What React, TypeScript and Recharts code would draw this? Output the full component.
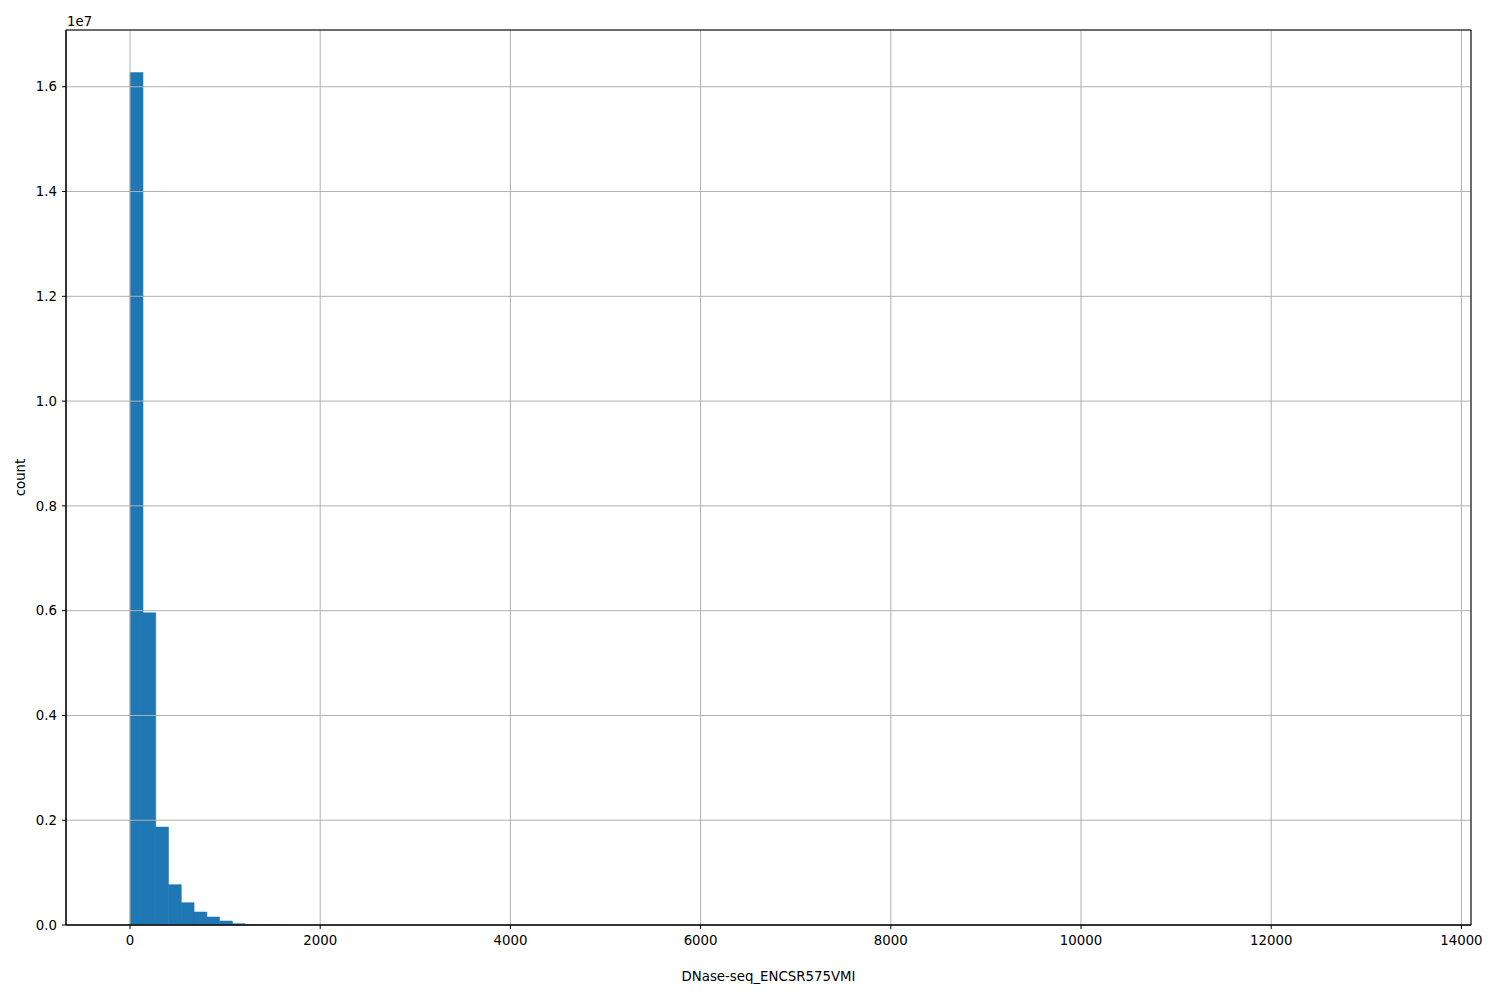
import React from 'react';
import { ComposedChart, Bar, XAxis, YAxis, CartesianGrid, Label, ReferenceArea } from 'recharts';

// Histogram bins (matplotlib/pandas hist, 100 bins over [0, ~13431])
const BIN_WIDTH = 134.3;
const binIndex = [0, 1, 2, 3, 4, 5, 6, 7, 8, 9, 10, 11];
const counts = [16270000, 5960000, 1870000, 770000, 426000, 248000, 153000, 76000, 25000, 8000, 3000, 1000];
const xTicks = [0, 2000, 4000, 6000, 8000, 10000, 12000, 14000];
const yTicks = [0, 2000000, 4000000, 6000000, 8000000, 10000000, 12000000, 14000000, 16000000];
const X_DOMAIN = [-673, 14101];
const Y_DOMAIN = [0, 17083500];

const data = binIndex.map((i, k) => ({ x: (i + 0.5) * BIN_WIDTH, count: counts[k] }));

const FONT = 'DejaVu Sans';
const tickStyle = { fontFamily: FONT, fontSize: 13.33, fill: '#000' };

export default function App() {
  return (
    <div style={{ position: 'absolute', left: 0, top: 0, width: 1500, height: 1000, background: '#fff' }}>
      <ComposedChart
        width={1500}
        height={1000}
        data={data}
        margin={{ top: 30, right: 29, bottom: 0, left: 0 }}
        barCategoryGap={0}
        barGap={0}
      >
        <XAxis
          type="number"
          dataKey="x"
          domain={X_DOMAIN}
          allowDataOverflow
          ticks={xTicks}
          interval={0}
          height={75}
          tickSize={4}
          tickMargin={7}
          stroke="#000"
          tick={tickStyle}
          tickLine={{ stroke: '#000' }}
          axisLine={{ stroke: '#000' }}
        >
          <Label
            content={(props: any) => {
              const vb = props.viewBox || {};
              return (
                <text x={vb.x + vb.width / 2} y={981} textAnchor="middle" style={{ fontFamily: FONT, fontSize: 13.33 }} fill="#000">
                  DNase-seq_ENCSR575VMI
                </text>
              );
            }}
          />
        </XAxis>
        <YAxis
          type="number"
          domain={Y_DOMAIN}
          allowDataOverflow
          ticks={yTicks}
          interval={0}
          width={66}
          tickSize={4}
          tickMargin={5}
          tick={tickStyle}
          tickLine={{ stroke: '#000' }}
          axisLine={{ stroke: '#000' }}
          tickFormatter={(v: number) => (v / 1e7).toFixed(1)}
        >
          <Label
            content={() => (
              <text x={25} y={477.5} textAnchor="middle" transform="rotate(-90, 25, 477.5)" style={{ fontFamily: FONT, fontSize: 13.33 }} fill="#000">
                count
              </text>
            )}
          />
          <Label
            content={() => (
              <text x={67} y={26} textAnchor="start" style={{ fontFamily: FONT, fontSize: 13.33 }} fill="#000">
                1e7
              </text>
            )}
          />
        </YAxis>
        <Bar
          dataKey="count"
          fill="#1f77b4"
          stroke="#1f77b4"
          strokeWidth={0.5}
          isAnimationActive={false}
        />
        <CartesianGrid stroke="#b0b0b0" strokeWidth={1} fill="none" zIndex={350} />
        <ReferenceArea
          x1={X_DOMAIN[0]}
          x2={X_DOMAIN[1]}
          y1={Y_DOMAIN[0]}
          y2={Y_DOMAIN[1]}
          fill="none"
          fillOpacity={0}
          stroke="#000"
          strokeWidth={1}
          strokeOpacity={1}
          ifOverflow="visible"
          zIndex={450}
        />
      </ComposedChart>
    </div>
  );
}
